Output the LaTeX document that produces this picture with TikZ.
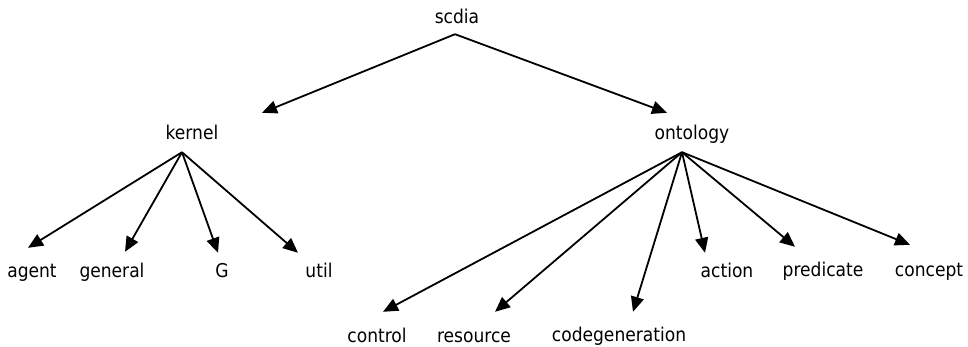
\documentclass[tikz,border=0pt]{standalone}
\usepackage{fontspec}
\setmainfont{DejaVu Sans Condensed}
\usetikzlibrary{arrows.meta}
\tikzset{
  pkg/.style={font=\fontsize{19}{21}\selectfont, inner sep=0pt,
              text height=14pt, text depth=4pt, anchor=base},
  dep/.style={-{Triangle[length=15pt,width=13pt]}, line width=1.8pt},
}
\begin{document}
\begin{tikzpicture}[x=1pt, y=-1pt]
\useasboundingbox (0,0) rectangle (968,347);

% ---------------- top level ----------------
\node[pkg] (scdia) at (457,24) {scdia};
\node[pkg] (kernel) at (192,140) {kernel};
\node[pkg] (ontology) at (692,140) {ontology};
\draw[dep] ([shift={(-2,6)}]scdia.south) -- ([shift={(70,-13)}]kernel.north);
\draw[dep] ([shift={(-2,6)}]scdia.south) -- ([shift={(-25,-13)}]ontology.north);

% ---------------- kernel ----------------
\foreach \n/\x/\dx/\dy in {agent/32/-4/-15, general/112/13/-11, G/222/-4/-10, util/319/-21/-10} {
  \node[pkg] (\n) at (\x,277) {\n};
  \draw[dep] ([shift={(-10,8)}]kernel.south) -- ([shift={(\dx,\dy)}]\n.north);
}

% ---------------- ontology ----------------
\foreach \n/\x/\b/\dx/\dy in {control/377/342/6/-16, resource/474/342/21/-16,
    codegeneration/619/341/14/-15, action/727/277/-22/-10,
    predicate/823/276/-28/-15, concept/929/276/-19/-17} {
  \node[pkg] (\n) at (\x,\b) {\n};
  \draw[dep] ([shift={(-10,8)}]ontology.south) -- ([shift={(\dx,\dy)}]\n.north);
}

\end{tikzpicture}
\end{document}
